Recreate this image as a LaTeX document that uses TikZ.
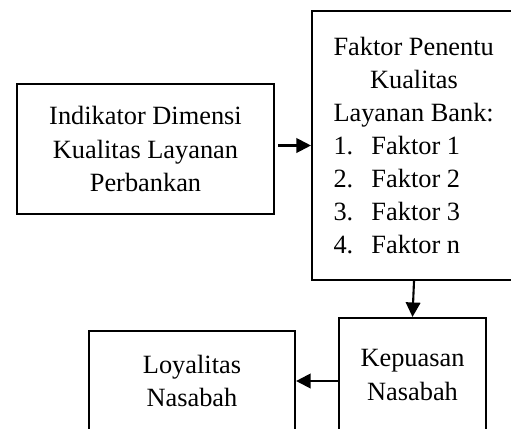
\documentclass[tikz,border=0pt]{standalone}
\usepackage{fontspec}
\setmainfont{Liberation Serif}
\usetikzlibrary{arrows.meta,positioning,calc}

\begin{document}
\begin{tikzpicture}[
  font=\fontsize{15}{18.8}\selectfont,>={Triangle[length=2.9mm,width=2.9mm]},
  kotak/.style={draw, line width=1.2pt, align=center, inner sep=0pt},
  panah/.style={->, line width=1.2pt},
]
\useasboundingbox (0,0) rectangle (10.22,8.56);
\begin{scope}
\clip (0,0) rectangle (10.22,8.56);
% kotak atas
\node[kotak,minimum width=5.14cm,minimum height=2.6cm] (indikator) at (2.91,5.58) {Indikator Dimensi\\Kualitas Layanan\\Perbankan};
\node[kotak,minimum width=4.08cm,minimum height=5.38cm,align=left] (faktor) at (8.28,5.65) {Faktor Penentu\\\makebox[3.22cm]{Kualitas}\\Layanan Bank:\\\makebox[0.76cm][l]{1.}Faktor 1\\\makebox[0.76cm][l]{2.}Faktor 2\\\makebox[0.76cm][l]{3.}Faktor 3\\\makebox[0.76cm][l]{4.}Faktor n};
% kotak bawah
\node[kotak,minimum width=2.94cm,minimum height=2.28cm] (kepuasan) at (8.25,1.06) {Kepuasan\\Nasabah};
\node[kotak,minimum width=4.12cm,minimum height=2.0cm] (loyalitas) at (3.84,0.94) {Loyalitas\\Nasabah};
% panah
\draw[panah,shorten <=0.06cm] (indikator.east |- faktor.west) -- (faktor.west);
\draw[panah] (faktor.south) -- (kepuasan.north);
\draw[panah] (kepuasan.west |- loyalitas.east) -- (loyalitas.east);
\end{scope}
\end{tikzpicture}
\end{document}
